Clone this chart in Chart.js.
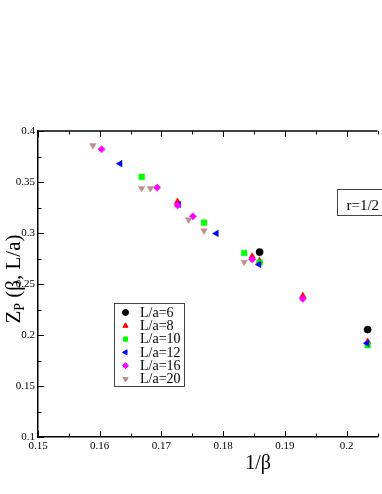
<!DOCTYPE html>
<html>
<head>
<meta charset="utf-8">
<script src="https://cdn.jsdelivr.net/npm/chart.js@4.4.1/dist/chart.umd.min.js"></script>
<style>
  html, body { margin: 0; padding: 0; background: #fff; }
  #wrap { width: 382px; height: 494px; }
</style>
</head>
<body>
<div id="wrap"><canvas id="zp"></canvas></div>
<script>
// series labels and values (x = 1/beta, y = Z_P)
const labels = ['L/a=6', 'L/a=8', 'L/a=10', 'L/a=12', 'L/a=16', 'L/a=20'];
const L6  = [[0.1859, 0.2813], [0.2034, 0.2053]];
const L8  = [[0.1726, 0.3307], [0.1847, 0.2770], [0.1859, 0.2728], [0.1929, 0.2385], [0.2034, 0.1935]];
const L10 = [[0.1668, 0.3550], [0.1769, 0.3101], [0.1834, 0.2804], [0.1859, 0.2711], [0.2034, 0.1900]];
const L12 = [[0.1633, 0.3680], [0.1728, 0.3280], [0.1789, 0.2996], [0.1858, 0.2692], [0.2033, 0.1919]];
const L16 = [[0.1603, 0.3821], [0.1693, 0.3445], [0.1726, 0.3271], [0.1751, 0.3163], [0.1847, 0.2741], [0.1929, 0.2355]];
const L20 = [[0.1589, 0.3858], [0.1668, 0.3438], [0.1682, 0.3438], [0.1744, 0.3130], [0.1769, 0.3023], [0.1834, 0.2715]];
const xTicks = [0.15, 0.16, 0.17, 0.18, 0.19, 0.2];
const yTicks = [0.1, 0.15, 0.2, 0.25, 0.3, 0.35, 0.4];

const series = [L6, L8, L10, L12, L16, L20];
const colors = ['#000000', '#ff0000', '#00ff00', '#0000ff', '#ff00ff', '#bc8f8f'];
const styles = ['circle', 'triangle', 'rect', 'triangle', 'rectRot', 'triangle'];
const rots = [0, 0, 0, -90, 0, 180];
const radii = [3.6, 3.8, 4, 3.8, 3.6, 3.8];

const serif = "'Liberation Serif', 'DejaVu Serif', serif";

const datasets = series.map((s, i) => ({
  label: labels[i],
  data: s.map(p => ({ x: p[0], y: p[1] })),
  backgroundColor: colors[i],
  borderColor: colors[i],
  borderWidth: 0.5,
  pointStyle: styles[i],
  rotation: rots[i],
  pointRadius: radii[i],
  order: 5 - i
}));

// frame, inward ticks, axis titles, legend and the r=1/2 box
const decor = {
  id: 'decor',
  afterDraw(chart) {
    const ctx = chart.ctx;
    const a = chart.chartArea;
    const xs = chart.scales.x, ys = chart.scales.y;
    ctx.save();
    ctx.strokeStyle = '#000';
    ctx.lineWidth = 1.5;
    ctx.beginPath();
    ctx.moveTo(a.left, a.top);
    ctx.lineTo(a.right, a.top);
    ctx.stroke();

    ctx.lineWidth = 1;
    for (let v = 0.15; v <= 0.2051; v += 0.005) {
      const px = Math.round(xs.getPixelForValue(v)) + 0.5;
      const major = Math.abs(v * 100 - Math.round(v * 100)) < 1e-6;
      const len = major ? 6 : 3.5;
      ctx.beginPath();
      ctx.moveTo(px, a.bottom); ctx.lineTo(px, a.bottom - len);
      ctx.moveTo(px, a.top); ctx.lineTo(px, a.top + len);
      ctx.stroke();
    }
    for (let v = 0.1; v <= 0.4001; v += 0.025) {
      const py = Math.round(ys.getPixelForValue(v)) + 0.5;
      const major = Math.abs(v * 20 - Math.round(v * 20)) < 1e-6;
      const len = major ? 6 : 3.5;
      ctx.beginPath();
      ctx.moveTo(a.left, py); ctx.lineTo(a.left + len, py);
      ctx.stroke();
    }

    // x title
    ctx.fillStyle = '#000';
    ctx.font = '20px ' + serif;
    ctx.textAlign = 'center';
    ctx.textBaseline = 'alphabetic';
    ctx.fillText('1/β', 258, 469);

    // y title with subscript
    ctx.save();
    ctx.translate(20, 279);
    ctx.rotate(-Math.PI / 2);
    ctx.textAlign = 'left';
    const big = '21px ' + serif, small = '14px ' + serif;
    ctx.font = big; const wZ = ctx.measureText('Z').width;
    ctx.font = small; const wP = ctx.measureText('P').width;
    ctx.font = big; const wR = ctx.measureText(' (β, L/a)').width;
    let x0 = -(wZ + wP + wR) / 2;
    ctx.font = big; ctx.fillText('Z', x0, 0);
    ctx.font = small; ctx.fillText('P', x0 + wZ, 4);
    ctx.font = big; ctx.fillText(' (β, L/a)', x0 + wZ + wP, 0);
    ctx.restore();

    // legend
    ctx.strokeStyle = '#444';
    ctx.lineWidth = 1;
    ctx.strokeRect(114.5, 303.5, 70, 83);
    ctx.font = '14px ' + serif;
    ctx.textAlign = 'left';
    ctx.textBaseline = 'middle';
    labels.forEach((lab, i) => {
      const cy = 312.5 + i * 13.3;
      ctx.fillStyle = colors[i];
      ctx.strokeStyle = colors[i];
      Chart.helpers.drawPoint(ctx, { pointStyle: styles[i], rotation: rots[i], radius: 3, borderWidth: 0.5 }, 125.5, cy);
      ctx.fillStyle = '#000';
      ctx.fillText(lab, 140, cy + 0.5);
    });

    // r=1/2 label box
    ctx.strokeStyle = '#444';
    ctx.strokeRect(337.5, 189.5, 60, 26);
    ctx.font = '15px ' + serif;
    ctx.textBaseline = 'alphabetic';
    ctx.fillText('r=1/2', 346.5, 210);
    ctx.restore();
  }
};

new Chart(document.getElementById('zp'), {
  type: 'scatter',
  data: { datasets: datasets },
  options: {
    responsive: true,
    maintainAspectRatio: false,
    animation: false,
    layout: { padding: { top: 131, left: 0, right: 0, bottom: 0 } },
    plugins: { legend: { display: false }, tooltip: { enabled: false } },
    scales: {
      x: {
        type: 'linear',
        min: 0.15,
        max: 0.205,
        afterFit: s => { s.height = 57; },
        afterBuildTicks: s => { s.ticks = xTicks.map(v => ({ value: v })); },
        grid: { display: false, drawTicks: false },
        border: { display: true, color: '#000', width: 1.5 },
        ticks: {
          padding: 3,
          color: '#000',
          font: { family: serif, size: 11 },
          callback: v => String(Math.round(v * 100) / 100)
        }
      },
      y: {
        type: 'linear',
        min: 0.1,
        max: 0.4,
        afterFit: s => { s.width = 38; },
        afterBuildTicks: s => { s.ticks = yTicks.map(v => ({ value: v })); },
        grid: { display: false, drawTicks: false },
        border: { display: true, color: '#000', width: 1.5 },
        ticks: {
          padding: 3,
          color: '#000',
          font: { family: serif, size: 11 },
          callback: v => String(Math.round(v * 100) / 100)
        }
      }
    }
  },
  plugins: [decor]
});
</script>
</body>
</html>
